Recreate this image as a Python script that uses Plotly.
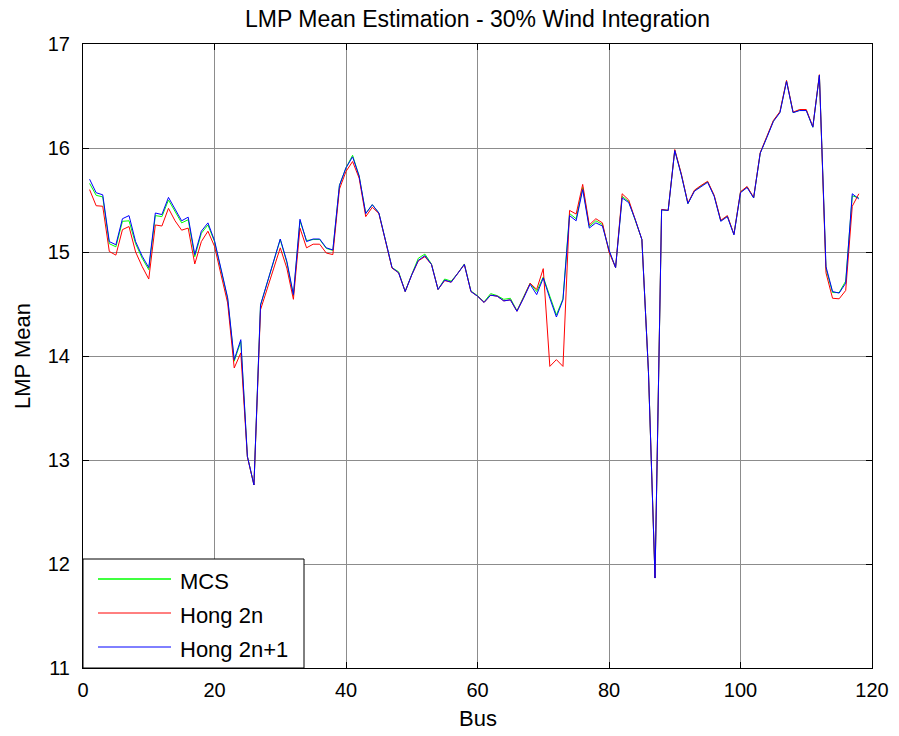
import plotly.graph_objects as go

bus = list(range(1, 119))

mcs = [15.66, 15.545, 15.53, 15.08, 15.05, 15.295, 15.30, 15.08, 14.94, 14.83,
       15.35, 15.34, 15.50, 15.39, 15.28, 15.31, 14.955, 15.18, 15.26, 15.10,
       14.82, 14.55, 13.95, 14.14, 13.035, 12.76, 14.49, 14.70, 14.91, 15.12,
       14.90, 14.58, 15.30, 15.11, 15.12, 15.12, 15.035, 15.015, 15.64, 15.81,
       15.93, 15.73, 15.37, 15.455, 15.375, 15.10, 14.85, 14.81, 14.62, 14.785,
       14.94, 14.98, 14.885, 14.64, 14.74, 14.72, 14.795, 14.885, 14.625, 14.58,
       14.52, 14.60, 14.58, 14.545, 14.555, 14.435, 14.56, 14.70, 14.62, 14.76,
       14.575, 14.395, 14.55, 15.37, 15.32, 15.62, 15.245, 15.30, 15.265, 15.01,
       14.85, 15.535, 15.485, 15.31, 15.12, 13.85, 11.865, 15.405, 15.40, 15.98,
       15.745, 15.465, 15.59, 15.635, 15.675, 15.54, 15.30, 15.345, 15.17, 15.575,
       15.625, 15.52, 15.95, 16.105, 16.26, 16.345, 16.645, 16.34, 16.365, 16.365,
       16.20, 16.70, 14.84, 14.61, 14.61, 14.72, 15.54, 15.52]

hong_2n = [15.60, 15.445, 15.44, 15.005, 14.97, 15.215, 15.245, 15.00, 14.86, 14.74,
           15.26, 15.25, 15.42, 15.30, 15.21, 15.23, 14.885, 15.10, 15.20, 15.055,
           14.78, 14.51, 13.885, 14.03, 13.03, 12.76, 14.445, 14.64, 14.845, 15.04,
           14.845, 14.545, 15.23, 15.04, 15.075, 15.075, 14.99, 14.975, 15.605, 15.775,
           15.87, 15.71, 15.34, 15.43, 15.37, 15.10, 14.845, 14.80, 14.62, 14.78,
           14.915, 14.955, 14.88, 14.64, 14.725, 14.71, 14.79, 14.88, 14.62, 14.575,
           14.515, 14.585, 14.575, 14.53, 14.54, 14.43, 14.56, 14.70, 14.64, 14.84,
           13.90, 13.965, 13.90, 15.40, 15.365, 15.65, 15.26, 15.32, 15.28, 15.00,
           14.85, 15.56, 15.50, 15.31, 15.12, 13.85, 11.865, 15.41, 15.40, 15.985,
           15.75, 15.47, 15.595, 15.64, 15.68, 15.545, 15.305, 15.35, 15.17, 15.58,
           15.63, 15.525, 15.955, 16.11, 16.265, 16.35, 16.65, 16.345, 16.37, 16.37,
           16.205, 16.705, 14.80, 14.555, 14.55, 14.63, 15.44, 15.56]

hong_2n1 = [15.70, 15.57, 15.55, 15.10, 15.07, 15.32, 15.35, 15.10, 14.96, 14.85,
            15.375, 15.36, 15.525, 15.41, 15.30, 15.335, 14.975, 15.20, 15.28, 15.11,
            14.83, 14.56, 13.965, 14.157, 13.035, 12.76, 14.49, 14.70, 14.91, 15.125,
            14.91, 14.59, 15.315, 15.10, 15.125, 15.125, 15.04, 15.02, 15.64, 15.81,
            15.915, 15.73, 15.37, 15.455, 15.375, 15.10, 14.85, 14.80, 14.62, 14.78,
            14.92, 14.965, 14.88, 14.64, 14.73, 14.71, 14.79, 14.88, 14.62, 14.575,
            14.515, 14.585, 14.575, 14.53, 14.54, 14.43, 14.555, 14.69, 14.59, 14.75,
            14.555, 14.375, 14.54, 15.35, 15.30, 15.60, 15.23, 15.28, 15.25, 15.02,
            14.85, 15.52, 15.475, 15.31, 15.12, 13.85, 11.865, 15.405, 15.40, 15.975,
            15.74, 15.465, 15.585, 15.63, 15.67, 15.535, 15.295, 15.34, 15.165, 15.57,
            15.62, 15.52, 15.95, 16.10, 16.255, 16.34, 16.64, 16.34, 16.36, 16.36,
            16.20, 16.70, 14.86, 14.62, 14.605, 14.70, 15.56, 15.51]

series_names = ["MCS", "Hong 2n", "Hong 2n+1"]
series_colors = ["#00ff00", "#ff0000", "#0000ff"]
series_values = [mcs, hong_2n, hong_2n1]

x_ticks = [0, 20, 40, 60, 80, 100, 120]
y_ticks = [11, 12, 13, 14, 15, 16, 17]

FONT = "Liberation Sans, Arial, sans-serif"

fig = go.Figure()
for name, color, vals in zip(series_names, series_colors, series_values):
    fig.add_trace(go.Scatter(x=bus, y=vals, mode="lines", name=name,
                             line=dict(color=color, width=1), showlegend=False))

# plot-area geometry (pixels)
L, R, T, B = 83, 27, 44, 68
W, H = 899, 736
pw, ph = W - L - R, H - T - B

def px(xp):
    return (xp - L) / pw

def py(yp):
    return (H - B - yp) / ph

shapes = []
annotations = []
# legend box
shapes.append(dict(type="rect", xref="paper", yref="paper",
                   x0=0, x1=px(304), y0=0, y1=py(559),
                   line=dict(color="black", width=1), fillcolor="white", layer="above"))
leg_y = [579, 613, 647]
for name, color, yy in zip(series_names, series_colors, leg_y):
    shapes.append(dict(type="line", xref="paper", yref="paper",
                       x0=px(98), x1=px(171), y0=py(yy), y1=py(yy),
                       line=dict(color=color, width=1.5 if name == "MCS" else 1), layer="above"))
    annotations.append(dict(xref="paper", yref="paper", x=px(178), y=py(yy + 2),
                            xanchor="left", yanchor="middle", showarrow=False,
                            text=name, font=dict(family=FONT, size=22, color="black")))

annotations.append(dict(xref="paper", yref="paper", x=0.5, y=py(718),
                        xanchor="center", yanchor="middle", showarrow=False,
                        text="Bus", font=dict(family=FONT, size=22, color="black")))
annotations.append(dict(xref="paper", yref="paper", x=px(22), y=0.5,
                        xanchor="center", yanchor="middle", showarrow=False, textangle=-90,
                        text="LMP Mean", font=dict(family=FONT, size=22, color="black")))

axis_common = dict(showline=True, linecolor="black", linewidth=1, mirror="allticks",
                   ticks="inside", ticklen=6, tickcolor="black",
                   showgrid=True, gridcolor="#8c8c8c", gridwidth=1, zeroline=False,
                   tickfont=dict(family=FONT, size=20, color="black"))

fig.update_layout(
    width=W, height=H,
    margin=dict(l=L, r=R, t=T, b=B, autoexpand=False),
    paper_bgcolor="white", plot_bgcolor="white",
    title=dict(text="LMP Mean Estimation - 30% Wind Integration",
               x=(L + pw / 2) / W, xanchor="center", y=1 - 19 / H, yanchor="middle",
               font=dict(family=FONT, size=23, color="black")),
    xaxis=dict(range=[0, 120], tickvals=x_ticks, ticklabelstandoff=4, **axis_common),
    yaxis=dict(range=[11, 17], tickvals=y_ticks, ticklabelstandoff=8, **axis_common),
    shapes=shapes, annotations=annotations, showlegend=False,
)

fig.write_html("out.html",
               config={"displayModeBar": False},
               post_script="document.body.style.margin='0';document.body.style.padding='0';"
                           "document.body.style.overflow='hidden';")
